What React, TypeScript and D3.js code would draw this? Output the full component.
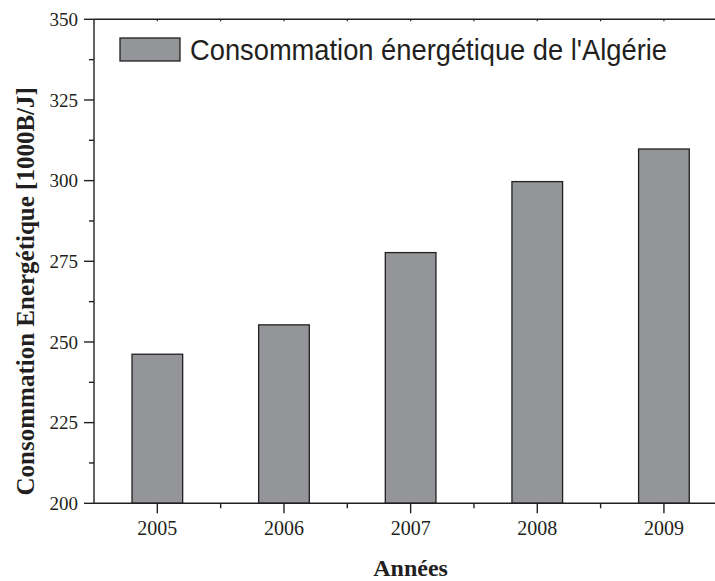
import React from "react";
import * as d3 from "d3";

const years = [2005, 2006, 2007, 2008, 2009];
const consumption = [246.2, 255.3, 277.7, 299.7, 309.8];
const yTicks = [200, 225, 250, 275, 300, 325, 350];
const legendLabel = "Consommation énergétique de l'Algérie";
const yTitle = "Consommation Energétique [1000B/J]";
const xTitle = "Années";

const W = 715;
const H = 581;
const left = 94;
const top = 19.3;
const bottom = 503.3;
const ink = "#231f20";
const barFill = "#939598";

export default function App() {
  const x = d3.scaleLinear().domain([2004.5, 2009.5]).range([left, left + 5 * 126.65]);
  const y = d3.scaleLinear().domain([200, 350]).range([bottom, top]);
  const barW = x(2005.2) - x(2004.8);
  const xMinor = d3.range(2004.5, 2010, 0.5);
  const yMinor = d3.range(200, 351, 12.5);
  const right = x(2009.5);

  return (
    <svg width={W} height={H} style={{ position: "absolute", left: 0, top: 0, background: "#fff" }}>
      {years.map((yr, i) => (
        <rect
          key={yr}
          x={x(yr) - barW / 2}
          y={y(consumption[i])}
          width={barW}
          height={y(200) - y(consumption[i])}
          fill={barFill}
          stroke={ink}
          strokeWidth={1.3}
        />
      ))}
      <line x1={left} x2={left} y1={top} y2={bottom} stroke={ink} strokeWidth={1.4} />
      <line x1={left} x2={right} y1={bottom} y2={bottom} stroke={ink} strokeWidth={1.4} />
      <line x1={left} x2={right} y1={top} y2={top} stroke={ink} strokeWidth={1.4} />
      {yMinor.map((v) => {
        const major = v % 25 === 0;
        return (
          <line key={"yt" + v} x1={left - (major ? 10 : 5)} x2={left} y1={y(v)} y2={y(v)} stroke={ink} strokeWidth={1.4} />
        );
      })}
      {yTicks.map((v) => (
        <text
          key={"yl" + v}
          x={left - 16}
          y={y(v)}
          dy="0.35em"
          textAnchor="end"
          fontFamily="'Liberation Serif', 'Times New Roman', serif"
          fontSize={19}
          fill={ink}
        >
          {v}
        </text>
      ))}
      {xMinor.map((v) => {
        const major = Number.isInteger(v);
        if (v <= 2004.5) return null;
        return (
          <g key={"xt" + v}>
            <line x1={x(v)} x2={x(v)} y1={bottom} y2={bottom + (major ? 10 : 5)} stroke={ink} strokeWidth={1.4} />
            <line x1={x(v)} x2={x(v)} y1={top} y2={top + 2} stroke={ink} strokeWidth={1.2} />
          </g>
        );
      })}
      {years.map((yr) => (
        <text
          key={"xl" + yr}
          x={x(yr)}
          y={535}
          textAnchor="middle"
          fontFamily="'Liberation Serif', 'Times New Roman', serif"
          fontSize={20}
          fill={ink}
        >
          {yr}
        </text>
      ))}
      <text
        x={(left + right) / 2}
        y={576}
        textAnchor="middle"
        fontFamily="'Liberation Serif', 'Times New Roman', serif"
        fontWeight="bold"
        fontSize={24}
        fill={ink}
      >
        {xTitle}
      </text>
      <text
        transform={`translate(34, ${(top + bottom) / 2 + 30}) rotate(-90)`}
        textAnchor="middle"
        fontFamily="'Liberation Serif', 'Times New Roman', serif"
        fontWeight="bold"
        fontSize={25}
        fill={ink}
      >
        {yTitle}
      </text>
      <rect x={120} y={38} width={60} height={23} fill={barFill} stroke={ink} strokeWidth={1.3} />
      <text
        x={190}
        y={60}
        fontFamily="'Liberation Sans', Arial, sans-serif"
        fontSize={29}
        textLength={477}
        lengthAdjust="spacingAndGlyphs"
        fill={ink}
      >
        {legendLabel}
      </text>
    </svg>
  );
}
